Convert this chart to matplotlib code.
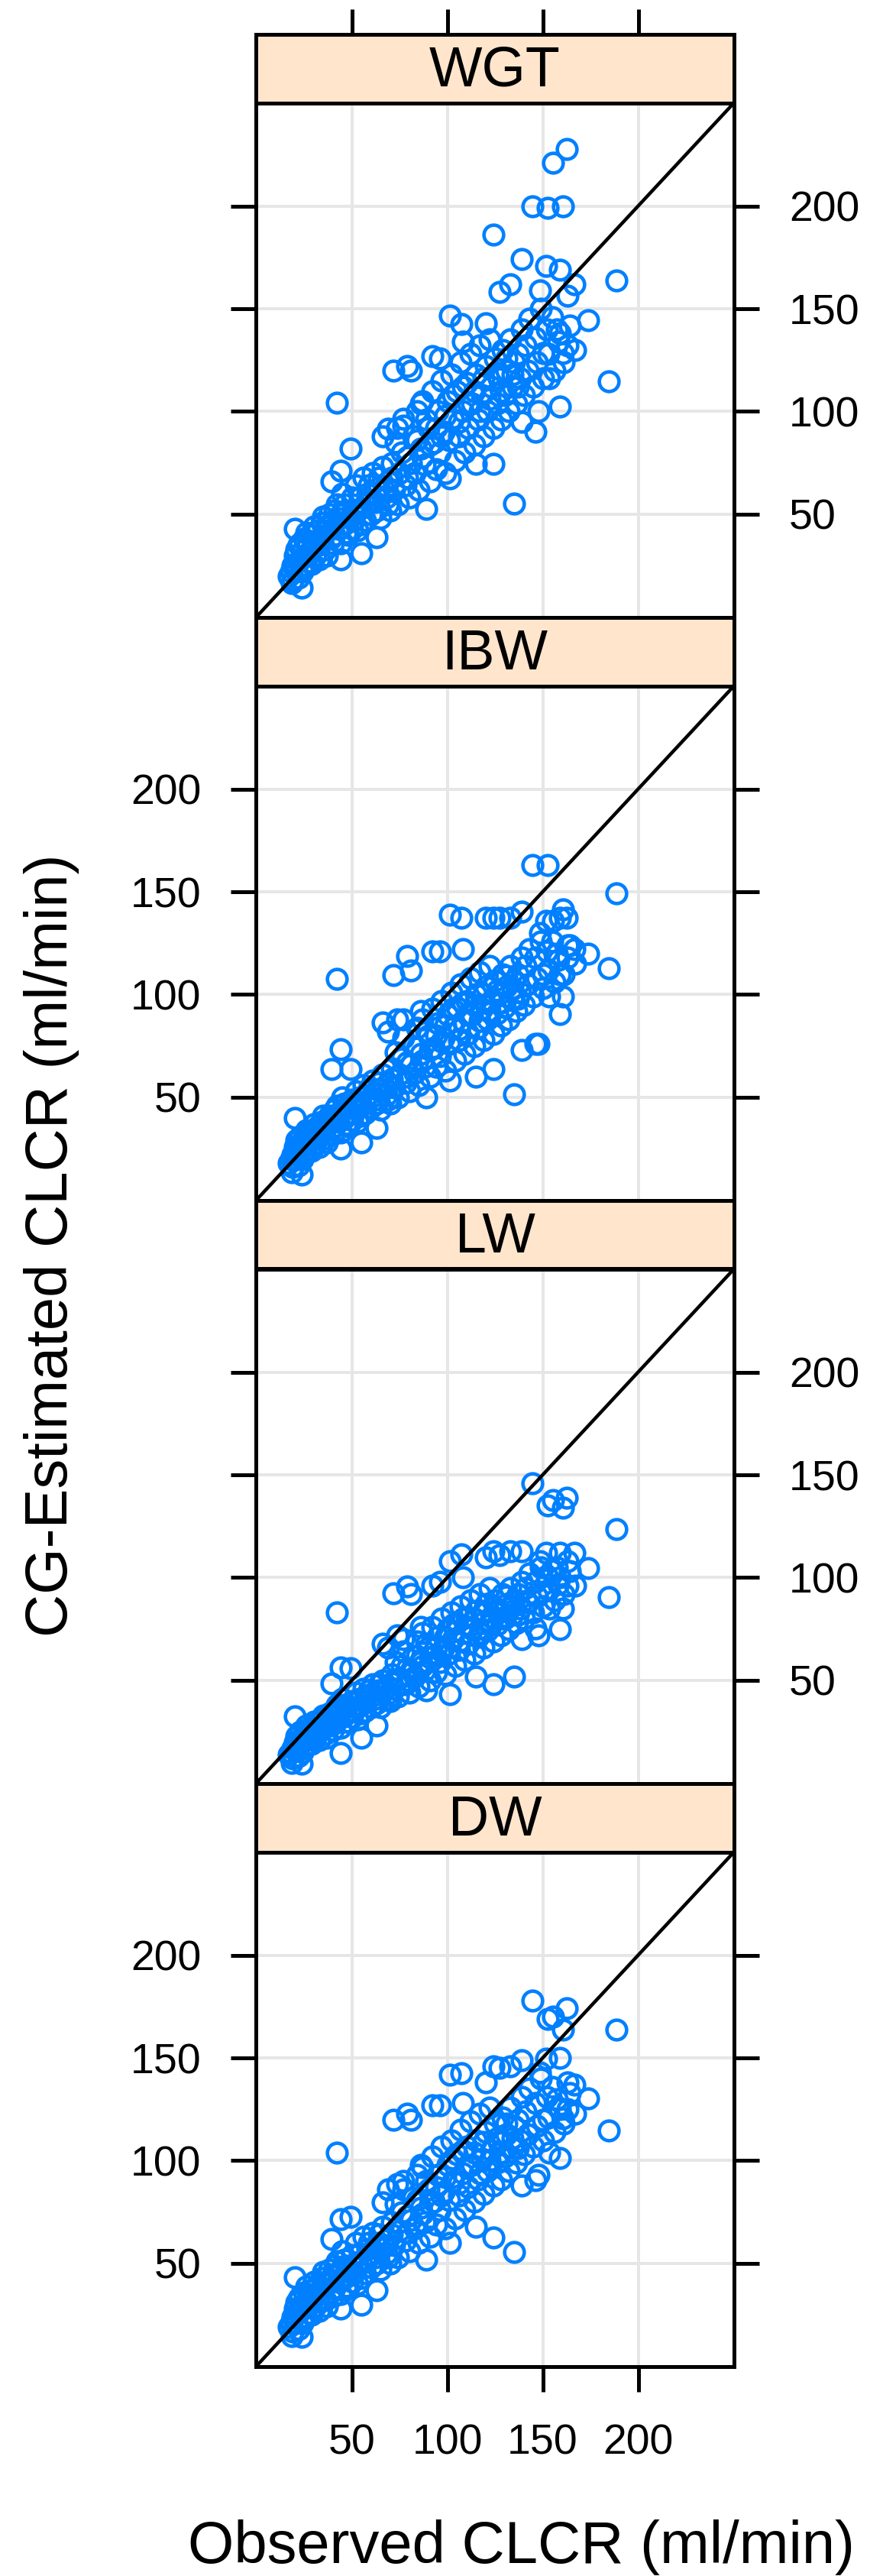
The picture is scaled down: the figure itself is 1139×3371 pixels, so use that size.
import matplotlib
matplotlib.use("Agg")
import matplotlib.pyplot as plt

# Observed vs CG-estimated creatinine clearance, one panel per weight descriptor
panel_names = ["WGT", "IBW", "LW", "DW"]
tick_values = [50, 100, 150, 200]
axis_limits = (-0.2, 250.2)

obs_clcr = [
    # outlying / edge points
    162.5, 155.3, 144.4, 152.5, 160.7, 124, 138.8, 151.7, 159, 188.5, 166.6, 133, 127.5, 148.5,
    163, 173.8, 101.5, 107.4, 120.3, 184.6, 42.3, 159.1, 146, 135, 71.7, 79, 81, 49.5, 44, 92,
    96, 115, 124, 101.5, 89, 153.5, 160.7, 150, 159, 157.5, 20.2, 18.4, 23.6, 147.8, 138.8, 66,
    73.9, 39.4, 44, 55, 63, 86, 69, 77, 108, 163,
    # low end
    17, 19, 20, 21, 22, 23, 24, 25, 25, 26, 27, 28, 28, 29, 30, 31, 32, 33, 34, 35, 36, 37, 38, 39, 40,
    # lower middle
    41, 42, 43, 44, 45, 46, 47, 48, 50, 51, 52, 53, 55, 56, 57, 58, 60, 61, 62, 64, 65, 66, 68, 69, 70,
    # middle
    71, 72, 73, 74, 75, 77, 78, 79, 80, 82, 83, 84, 85, 86, 87, 88, 90, 91, 92, 93, 94, 95, 96, 97,
    98, 99, 100,
    # upper middle
    101, 102, 103, 104, 105, 106, 107, 108, 109, 110, 111, 112, 113, 114, 115, 116, 117, 118, 119, 120,
    121, 122, 123, 124, 125, 126, 127, 128, 129, 130, 131, 132, 133, 134, 135, 136, 137, 138, 139, 140,
    # upper end
    141, 142, 143, 145, 146, 147, 149, 150, 152, 153, 155, 156, 158, 161, 164, 167,
    # dense low end
    18, 19, 20, 21, 22, 22, 23, 24, 24, 26, 26, 27, 29, 30, 31, 33, 34, 35, 36, 37, 38, 40, 41, 43,
    44, 46, 47, 49, 50, 52, 54, 55, 57, 59, 60, 63, 64, 67, 69, 71,
    # dense middle
    76, 79, 81, 84, 87, 89, 91, 94, 97, 99, 103, 106, 108, 111, 114, 117, 119, 122, 126, 128, 131,
    134, 137,
]

est_wgt = [
    227.8, 221, 200, 199, 200, 186, 174, 170.8, 169, 163.6, 162, 162, 158, 159,
    156.4, 144.5, 146.5, 142.6, 142.8, 114.6, 104.3, 102.3, 90, 55.2, 119.8, 122, 120, 82, 71, 127,
    125.7, 74.5, 74.5, 67.3, 52.7, 116.3, 128.6, 128.6, 138, 140, 43, 16.7, 14.4, 100, 95, 88,
    92, 66, 28, 31, 39, 104, 91.6, 96.5, 134, 132,
    20, 25, 30, 22, 35, 28, 32, 38, 24, 30, 35, 40, 27, 33, 37, 30, 42, 35, 46, 39, 33, 44, 50, 38, 47,
    40, 55, 48, 36, 60, 45, 52, 40, 58, 47, 64, 42, 53, 68, 47, 60, 50, 70, 56, 63, 48, 73, 58, 66, 52,
    75, 62, 85, 55, 70, 93, 64, 78, 58, 88, 70, 100, 62, 82, 105, 74, 92, 66, 110, 85, 72, 100, 80, 115,
    90, 70, 105,
    86, 118, 96, 76, 110, 88, 124, 100, 80, 114, 92, 128, 104, 84, 118, 96, 132, 108, 88, 122,
    100, 135, 112, 92, 126, 104, 116, 96, 130, 108, 120, 100, 135, 112, 124, 104, 128, 116, 140, 108,
    132, 120, 145, 112, 136, 124, 150, 116, 140, 128, 146, 120, 134, 124, 142, 130,
    22, 18, 26, 33, 19, 27, 36, 22, 29, 25, 41, 31, 26, 44, 36, 28, 38, 49, 42, 30, 45, 36, 52, 43,
    50, 55, 41, 48, 43, 51, 58, 45, 55, 64, 57, 52, 68, 62, 55, 68,
    80, 68, 75, 86, 78, 96, 84, 92, 88, 98, 108, 95, 112, 104, 110, 100, 116, 106, 118, 110, 126,
    118, 112,
]

est_ibw = [
    137.5, 136, 163, 163, 141.6, 137.5, 140.5, 136, 137.5, 149.4, 122, 137.5, 137.5, 130,
    124, 120, 139, 137.5, 137.5, 112.8, 107.6, 90.4, 76.2, 51.5, 109.3, 118.7, 111.8, 63.8, 73.5, 121,
    121, 60, 63.6, 58, 50, 99, 99.2, 110, 110, 120, 40, 13.6, 12.6, 76, 73, 86.6,
    88, 63.8, 25, 28, 35, 92, 82, 88, 122, 118,
    18, 22, 26, 20, 30, 25, 27, 32, 22, 27, 30, 33, 25, 29, 32, 27, 36, 31, 38, 34, 30, 38, 41, 34, 40,
    36, 46, 42, 33, 50, 40, 45, 36, 49, 42, 53, 38, 46, 56, 42, 51, 45, 58, 49, 54, 44, 61, 51, 57, 47,
    64, 55, 72, 50, 61, 79, 57, 67, 53, 75, 62, 84, 56, 71, 88, 65, 80, 60, 93, 74, 65, 86, 70, 97,
    79, 63, 90,
    76, 101, 84, 68, 94, 78, 105, 87, 71, 97, 81, 108, 90, 75, 100, 84, 111, 93, 78, 104,
    88, 114, 97, 81, 107, 91, 100, 85, 110, 94, 104, 88, 114, 98, 107, 92, 110, 101, 118, 95,
    114, 105, 122, 99, 118, 108, 126, 103, 121, 112, 126, 106, 117, 110, 124, 115,
    20, 16, 23, 29, 17, 24, 31, 20, 26, 23, 34, 27, 24, 37, 31, 26, 33, 41, 36, 28, 39, 32, 44, 38,
    43, 47, 37, 42, 39, 45, 50, 41, 48, 54, 50, 47, 57, 54, 49, 59,
    69, 60, 66, 74, 68, 82, 73, 80, 77, 85, 93, 83, 96, 91, 95, 87, 100, 92, 102, 96, 109,
    103, 98,
]

est_lw = [
    139, 137.7, 146, 135, 134, 113, 113, 112, 112, 123.5, 112, 113, 111, 108,
    108, 104.5, 108, 111.3, 110, 90.4, 83.2, 75, 75.3, 52, 92.4, 95.7, 92, 56, 56.4, 96,
    98, 52, 48, 43.2, 45, 85, 85, 93, 100, 105, 32.4, 10, 9.3, 72, 70, 68,
    72, 48.6, 14.5, 22, 28, 76, 66, 70, 100, 96,
    14, 17, 20, 16, 24, 19, 22, 26, 17, 21, 25, 27, 19, 23, 26, 22, 29, 25, 31, 28, 24, 31, 34, 28, 33,
    29, 38, 34, 27, 41, 33, 37, 30, 40, 35, 44, 31, 38, 46, 35, 43, 37, 48, 41, 45, 37, 50, 43, 47, 40,
    53, 46, 59, 42, 51, 64, 48, 56, 44, 62, 52, 69, 47, 59, 73, 55, 66, 50, 76, 62, 54, 71, 59, 80,
    66, 53, 75,
    63, 83, 70, 57, 78, 65, 86, 73, 60, 81, 68, 89, 75, 63, 84, 71, 92, 78, 66, 87,
    74, 95, 81, 69, 89, 77, 84, 72, 92, 80, 87, 75, 95, 82, 89, 78, 92, 85, 98, 80,
    95, 88, 102, 83, 98, 91, 105, 86, 101, 94, 104, 89, 97, 92, 103, 96,
    15, 12, 18, 23, 13, 19, 25, 15, 20, 18, 28, 22, 19, 30, 25, 21, 27, 33, 29, 22, 31, 26, 36, 31,
    35, 38, 30, 35, 32, 37, 41, 34, 40, 45, 42, 39, 48, 45, 41, 49,
    57, 50, 55, 62, 57, 68, 61, 66, 64, 71, 77, 69, 80, 76, 80, 73, 84, 77, 85, 80, 91,
    86, 82,
]

est_dw = [
    174, 170, 177.8, 169, 163.8, 146, 149, 149.8, 150, 163.8, 137, 146, 145, 143,
    138, 130.2, 142, 142.7, 138, 114.7, 104, 101.4, 90.5, 55.6, 120, 123, 120, 72.7, 71.4, 127,
    127, 68, 62.5, 60, 52, 104, 120.5, 120, 125, 130, 43.4, 14.8, 14.3, 93, 88, 79.8,
    88.7, 62, 28, 30, 37, 98, 86, 90, 128, 125,
    19, 24, 28, 21, 33, 27, 30, 36, 23, 29, 33, 37, 26, 31, 35, 29, 40, 33, 43, 37, 32, 41, 47, 36, 44,
    38, 51, 45, 35, 56, 43, 49, 38, 54, 45, 60, 40, 50, 63, 45, 57, 48, 65, 53, 60, 47, 68, 55, 62, 50,
    70, 59, 79, 53, 66, 86, 61, 73, 56, 82, 67, 93, 60, 77, 97, 70, 86, 63, 102, 80, 69, 93, 76, 107,
    85, 67, 98,
    81, 110, 90, 72, 103, 83, 115, 94, 76, 107, 87, 119, 98, 80, 110, 91, 123, 101, 84, 114,
    95, 126, 105, 88, 118, 99, 109, 91, 121, 102, 113, 95, 126, 106, 117, 99, 120, 110, 131, 103,
    124, 113, 135, 107, 128, 117, 140, 110, 131, 121, 136, 114, 126, 118, 133, 123,
    21, 17, 25, 31, 18, 26, 34, 21, 28, 24, 39, 30, 25, 41, 34, 27, 36, 46, 40, 29, 42, 34, 49, 41,
    47, 52, 39, 46, 41, 48, 55, 43, 52, 60, 54, 50, 64, 58, 53, 64,
    75, 65, 71, 81, 74, 90, 79, 87, 83, 92, 101, 89, 105, 98, 104, 94, 109, 100, 111, 104, 118,
    111, 106,
]

estimates = [est_wgt, est_ibw, est_lw, est_dw]

plt.rcParams['font.family'] = ['Liberation Sans', 'DejaVu Sans']

W, H, DPI = 1139, 3371, 100
fig = plt.figure(figsize=(W / DPI, H / DPI), dpi=DPI)


def box(left, top, right, bottom):
    # pixel box (from top-left) -> figure fraction rect
    return [left / W, 1 - bottom / H, (right - left) / W, (bottom - top) / H]


PX = 72 / DPI            # points per pixel
panel_left, panel_right = 335, 961
layout_top, row_height, strip_height = 45, 763, 89.5
line_w = 5 * PX
tick_len = 33 * PX

for i, (name, est) in enumerate(zip(panel_names, estimates)):
    strip_top = layout_top + i * row_height
    strip_bot = strip_top + strip_height
    panel_bot = strip_top + row_height

    # strip
    sax = fig.add_axes(box(panel_left, strip_top, panel_right, strip_bot))
    sax.set_facecolor('#ffe5cc')
    sax.set_xlim(axis_limits)
    sax.set_yticks([])
    sax.text(0.5, 0.46, name, transform=sax.transAxes, ha='center', va='center', fontsize=53)
    for sp in sax.spines.values():
        sp.set_linewidth(line_w)
    if i == 0:
        sax.set_xticks(tick_values)
        sax.tick_params(axis='x', top=True, bottom=False, labeltop=False, labelbottom=False,
                        direction='out', length=tick_len, width=line_w)
    else:
        sax.set_xticks([])

    # panel
    ax = fig.add_axes(box(panel_left, strip_bot, panel_right, panel_bot))
    ax.set_xlim(axis_limits)
    ax.set_ylim(axis_limits)
    ax.set_xticks(tick_values)
    ax.set_yticks(tick_values)
    ax.grid(True, color='#e6e6e6', linewidth=4 * PX)
    ax.set_axisbelow(True)
    ax.plot(obs_clcr, est, 'o', mfc='none', mec='#0080ff', ms=18.5, mew=4.6 * PX, zorder=3)
    ax.plot(axis_limits, axis_limits, color='black', linewidth=4.5 * PX, zorder=4)
    for sp in ax.spines.values():
        sp.set_linewidth(line_w)
        sp.set_zorder(5)

    labels_left = i in (1, 3)
    ax.tick_params(axis='y', left=True, right=True, labelleft=labels_left,
                   labelright=not labels_left, direction='out', length=tick_len,
                   width=line_w, labelsize=40, pad=28)
    last = i == len(panel_names) - 1
    ax.tick_params(axis='x', top=False, bottom=last, labelbottom=last, direction='out',
                   length=tick_len, width=line_w, labelsize=40, pad=30)

fig.text(682 / W, 1 - 3354 / H, 'Observed CLCR (ml/min)', ha='center', va='baseline', fontsize=56)
fig.text(68 / W, 1 - 1630 / H, 'CG-Estimated CLCR (ml/min)', ha='center', va='center',
         rotation=90, fontsize=56)

fig.savefig('out.png', dpi=DPI)
